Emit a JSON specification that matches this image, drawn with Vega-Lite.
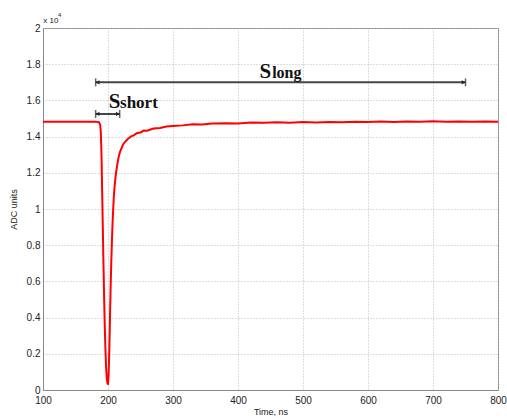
{
  "$schema": "https://vega.github.io/schema/vega-lite/v6.json",
  "autosize": "none",
  "width": 455,
  "height": 362,
  "padding": {"left": 43, "top": 28, "right": 9, "bottom": 30},
  "background": "white",
  "config": {
    "view": {"stroke": "#888", "strokeWidth": 1},
    "axis": {
      "gridColor": "#bbb", "gridDash": [1, 2], "gridWidth": 1,
      "domainColor": "#888", "ticks": false, "labelOverlap": false,
      "labelFont": "Liberation Sans", "labelFontSize": 10, "labelColor": "#222",
      "titleFont": "Liberation Sans", "titleFontSize": 9, "titleFontWeight": "normal", "titleColor": "#222"
    }
  },
  "datasets": {
    "signal": [
      {"x": 100, "y": 14820}, {"x": 120, "y": 14815}, {"x": 140, "y": 14822}, {"x": 160, "y": 14818}, {"x": 180, "y": 14820},
      {"x": 186, "y": 14800}, {"x": 188, "y": 14650}, {"x": 189, "y": 14200}, {"x": 190, "y": 13000}, {"x": 191, "y": 11000},
      {"x": 192, "y": 9000}, {"x": 193, "y": 7000}, {"x": 194, "y": 5200}, {"x": 195, "y": 3600}, {"x": 196, "y": 2300},
      {"x": 197, "y": 1300}, {"x": 198, "y": 700}, {"x": 199, "y": 400}, {"x": 200, "y": 300}, {"x": 201, "y": 900},
      {"x": 202, "y": 2200}, {"x": 203, "y": 3900}, {"x": 204, "y": 5600}, {"x": 205, "y": 7000}, {"x": 206, "y": 8200},
      {"x": 207, "y": 9200}, {"x": 208, "y": 10000}, {"x": 209, "y": 10700}, {"x": 210, "y": 11200}, {"x": 212, "y": 11900},
      {"x": 214, "y": 12400}, {"x": 216, "y": 12800}, {"x": 218, "y": 13100}, {"x": 220, "y": 13300}, {"x": 223, "y": 13550},
      {"x": 226, "y": 13700}, {"x": 230, "y": 13850}, {"x": 235, "y": 14000}, {"x": 240, "y": 14080}, {"x": 245, "y": 14200},
      {"x": 250, "y": 14230}, {"x": 255, "y": 14330}, {"x": 260, "y": 14320}, {"x": 270, "y": 14450}, {"x": 280, "y": 14470},
      {"x": 290, "y": 14560}, {"x": 300, "y": 14580}, {"x": 315, "y": 14620}, {"x": 330, "y": 14680}, {"x": 345, "y": 14670},
      {"x": 360, "y": 14720}, {"x": 380, "y": 14740}, {"x": 400, "y": 14730}, {"x": 420, "y": 14780}, {"x": 440, "y": 14760},
      {"x": 460, "y": 14790}, {"x": 480, "y": 14770}, {"x": 500, "y": 14800}, {"x": 520, "y": 14780}, {"x": 540, "y": 14810},
      {"x": 560, "y": 14790}, {"x": 580, "y": 14820}, {"x": 600, "y": 14800}, {"x": 620, "y": 14830}, {"x": 640, "y": 14800},
      {"x": 660, "y": 14840}, {"x": 680, "y": 14820}, {"x": 700, "y": 14850}, {"x": 720, "y": 14820}, {"x": 740, "y": 14840},
      {"x": 760, "y": 14820}, {"x": 780, "y": 14830}, {"x": 800, "y": 14820}
    ],
    "spans": [
      {"name": "long", "x": 181, "x2": 750, "y": 17000},
      {"name": "short", "x": 181, "x2": 218, "y": 15250}
    ],
    "ends": [
      {"x": 181, "y": 17000}, {"x": 750, "y": 17000}, {"x": 181, "y": 15250}, {"x": 218, "y": 15250}
    ],
    "arrows": [
      {"x": 184, "y": 17000, "dir": "left"},
      {"x": 747, "y": 17000, "dir": "right"},
      {"x": 184, "y": 15250, "dir": "left"},
      {"x": 215, "y": 15250, "dir": "right"}
    ],
    "labels": [
      {"x": 433, "y": 17240, "txt": "S", "sz": 21},
      {"x": 452.5, "y": 17240, "txt": "long", "sz": 16},
      {"x": 201, "y": 15580, "txt": "S", "sz": 21},
      {"x": 218.5, "y": 15580, "txt": "short", "sz": 17}
    ],
    "exp": [
      {"x": 100.5, "y": 20300, "txt": "x 10", "sz": 8},
      {"x": 123, "y": 20600, "txt": "4", "sz": 6}
    ]
  },
  "encoding": {
    "x": {"field": "x", "type": "quantitative", "scale": {"domain": [100, 800], "nice": false, "zero": false},
          "axis": {"title": "Time, ns", "values": [100, 200, 300, 400, 500, 600, 700, 800], "labelPadding": 5, "titlePadding": 2, "labelFlush": false}},
    "y": {"field": "y", "type": "quantitative", "scale": {"domain": [0, 20000], "nice": false},
          "axis": {"title": "ADC units", "values": [0, 2000, 4000, 6000, 8000, 10000, 12000, 14000, 16000, 18000, 20000],
                   "labelExpr": "format(datum.value / 10000, '~g')", "labelPadding": 3, "titlePadding": 8}}
  },
  "layer": [
    {
      "data": {"name": "signal"},
      "mark": {"type": "line", "color": "#ff0000", "strokeWidth": 2, "clip": true}
    },
    {
      "data": {"name": "spans"},
      "mark": {"type": "rule", "color": "#444", "strokeWidth": 2},
      "encoding": {"x2": {"field": "x2"}}
    },
    {
      "data": {"name": "ends"},
      "mark": {"type": "tick", "orient": "vertical", "color": "#222", "size": 8, "thickness": 1.5}
    },
    {
      "data": {"name": "arrows"},
      "mark": {"type": "point", "filled": true, "color": "#222", "size": 18, "opacity": 1},
      "encoding": {
        "shape": {"field": "dir", "type": "nominal", "scale": {"domain": ["left", "right"], "range": ["triangle-left", "triangle-right"]}, "legend": null}
      }
    },
    {
      "data": {"name": "labels"},
      "mark": {"type": "text", "font": "Liberation Serif", "fontWeight": "bold", "align": "left", "baseline": "alphabetic", "color": "#111"},
      "encoding": {
        "text": {"field": "txt"},
        "size": {"field": "sz", "type": "quantitative", "scale": null}
      }
    },
    {
      "data": {"name": "exp"},
      "mark": {"type": "text", "font": "Liberation Sans", "align": "left", "baseline": "alphabetic", "color": "#222", "clip": false},
      "encoding": {
        "text": {"field": "txt"},
        "size": {"field": "sz", "type": "quantitative", "scale": null}
      }
    }
  ]
}
